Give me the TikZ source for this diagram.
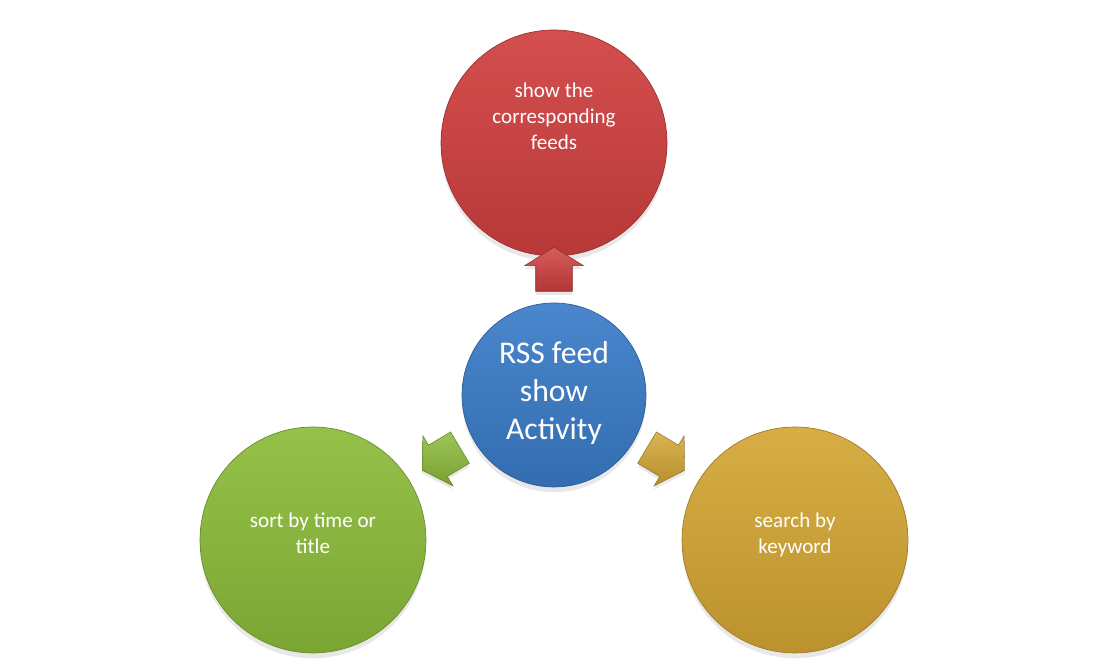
\documentclass[tikz,border=0pt]{standalone}
\usepackage{fontspec}
\setmainfont{Carlito}
\usetikzlibrary{positioning, shapes.arrows, shadows}

\definecolor{feedred}{RGB}{208,64,63}
\definecolor{feedblue}{RGB}{58,124,200}
\definecolor{feedgreen}{RGB}{140,188,58}
\definecolor{feedgold}{RGB}{212,166,52}

\tikzset{
  bubble/.style={circle, inner sep=0pt, draw=#1!75!black, line width=0.4pt,
    top color=#1!92!white, bottom color=#1!88!black,
    drop shadow={shadow xshift=0pt, shadow yshift=-3pt, opacity=0.18}},
  bubbletext/.style={text=white, align=center, inner sep=0pt,
    font=\fontsize{12}{14.7}\selectfont},
  pointer/.style={single arrow, inner xsep=0pt, inner ysep=0.36cm,
    draw=#1!70!black, line width=0.3pt,
    minimum height=0.88cm, minimum width=1.16cm,
    single arrow head extend=0.22cm, single arrow tip angle=116,
    top color=#1!85!white, bottom color=#1!85!black,
    drop shadow={shadow xshift=0pt, shadow yshift=-2pt, opacity=0.18}},
}

\begin{document}
\begin{tikzpicture}[x=0.02cm, y=0.02cm]
\useasboundingbox (0,0) rectangle (1107,661);

% outer circles
\node[bubble=feedred, minimum size=4.52cm] (show) at (554,518) {};
\node[bubble=feedgreen, minimum size=4.52cm] (sort) at (313,121) {};
\node[bubble=feedgold, minimum size=4.52cm] (search) at (795,121) {};

% centre
\node[bubble=feedblue, minimum size=3.68cm] (rss) at (554,266) {};

\node[bubbletext] (showtxt) at (554,545) {show the\\corresponding\\feeds};
\node[bubbletext] (sorttxt) at (313,128) {sort by time or\\title};
\node[bubbletext] (searchtxt) at (795,126) {search by\\keyword};
\node[bubbletext, font=\fontsize{18}{21.8}\selectfont] (rsstxt) at (554,268)
  {RSS feed\\show\\Activity};

% arrows
\node[pointer=feedred, rotate=90] (toshow) at (554,386) {};
\node[pointer=feedgreen, rotate=211] (tosort) at (446,205) {};
\node[pointer=feedgold, rotate=-31] (tosearch) at (661,205) {};

\end{tikzpicture}
\end{document}
